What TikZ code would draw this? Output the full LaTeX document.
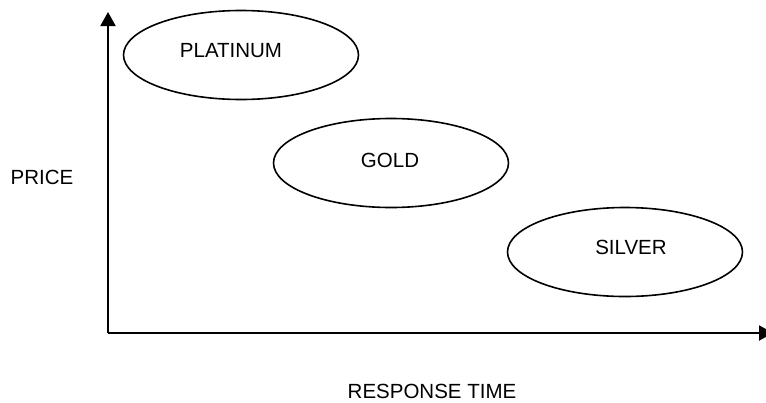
\documentclass[tikz,border=0pt]{standalone}
\usepackage{fontspec}
\setmainfont{Liberation Sans}
\usetikzlibrary{shapes.geometric,arrows.meta}

\tikzset{
  tier/.style={ellipse, draw=black, line width=1.6pt, inner sep=0pt,
               minimum width=235pt, minimum height=89pt},
  label text/.style={inner sep=0pt, font=\fontsize{20.5}{24}\selectfont},
  axis/.style={line width=2pt, -{Triangle[length=14pt,width=15pt]}}
}

\begin{document}
\begin{tikzpicture}[x=1pt,y=-1pt]
  \useasboundingbox (0,0) rectangle (766,402);
  \clip (0,0) rectangle (766,402);

  % axes
  \coordinate (origin) at (108,333);
  \coordinate (ytip) at (108,12);
  \coordinate (xtip) at (773,333);
  \draw[axis] (origin) -- (ytip);
  \draw[axis] (origin) -- (xtip);

  % service tiers
  \node[tier] (platinum) at (241,55) {};
  \node[tier] (gold) at (391,163) {};
  \node[tier] (silver) at (625,252) {};

  \node[label text] (platinumtext) at (231,51) {PLATINUM};
  \node[label text] (goldtext) at (390,160) {GOLD};
  \node[label text] (silvertext) at (631,247) {SILVER};

  % axis titles
  \node[label text] (price) at (42,177) {PRICE};
  \node[label text] (response) at (432,391) {RESPONSE TIME};
\end{tikzpicture}
\end{document}
